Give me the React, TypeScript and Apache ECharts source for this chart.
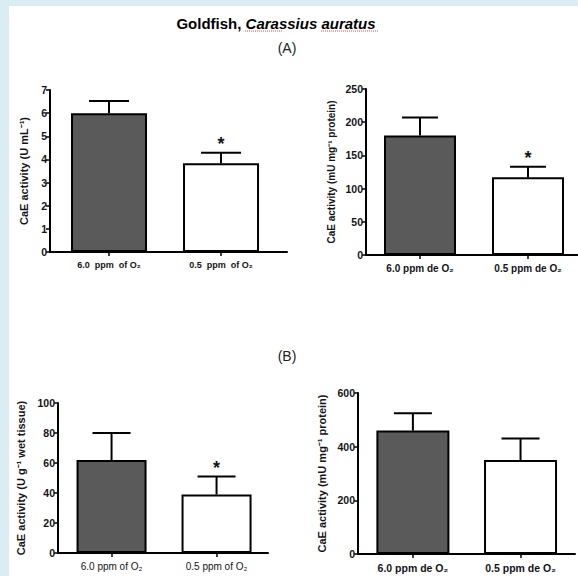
import React, { useEffect, useRef } from "react";
import * as echarts from "echarts";

// Panel A-left: U mL-1
const a1Labels = ["6.0  ppm  of O₂", "0.5  ppm  of O₂"];
const a1Means = [6.0, 3.83];
const a1Sem = [0.52, 0.46];
const a1Sig = [false, true];

// Panel A-right: mU mg-1 protein
const a2Labels = ["6.0 ppm de O₂", "0.5 ppm de O₂"];
const a2Means = [180, 117];
const a2Sem = [27, 16];
const a2Sig = [false, true];

// Panel B-left: U g-1 wet tissue
const b1Labels = ["6.0 ppm of O₂", "0.5 ppm of O₂"];
const b1Means = [62, 39];
const b1Sem = [18, 12];
const b1Sig = [false, true];

// Panel B-right: mU mg-1 protein
const b2Labels = ["6.0 ppm de O₂", "0.5 ppm de O₂"];
const b2Means = [460, 350];
const b2Sem = [65, 80];
const b2Sig = [false, false];

const positions = [1, 2];
const barColors = ["#5a5a5a", "#ffffff"];
const TXT = "#141418";
const FONT = "'Liberation Sans', Arial, sans-serif";

type Panel = {
  labels: string[];
  means: number[];
  sem: number[];
  sig: boolean[];
  yMax: number;
  yInterval: number;
  yName: string;
  grid: { left: number; top: number; width: number; height: number };
  xMin: number;
  xMax: number;
  barWidth: number;
  cap: number;
  xLabelSize: number;
  yNameSize: number;
  yNameGap: number;
  xLabelBold: boolean;
};

const panels: Panel[] = [
  {
    labels: a1Labels, means: a1Means, sem: a1Sem, sig: a1Sig,
    yMax: 7, yInterval: 1, yName: "CaE activity (U mL⁻¹)",
    grid: { left: 50, top: 90, width: 237, height: 162 },
    xMin: 0.473, xMax: 2.589, barWidth: 76, cap: 40, xLabelSize: 9,
    yNameSize: 11, yNameGap: 21, xLabelBold: true,
  },
  {
    labels: a2Labels, means: a2Means, sem: a2Sem, sig: a2Sig,
    yMax: 250, yInterval: 50, yName: "CaE activity (mU mg⁻¹ protein)",
    grid: { left: 366, top: 89, width: 212, height: 166 },
    xMin: 0.5, xMax: 2.463, barWidth: 72, cap: 36, xLabelSize: 10,
    yNameSize: 10, yNameGap: 30, xLabelBold: true,
  },
  {
    labels: b1Labels, means: b1Means, sem: b1Sem, sig: b1Sig,
    yMax: 100, yInterval: 20, yName: "CaE activity (U g⁻¹ wet tissue)",
    grid: { left: 58, top: 403, width: 210, height: 150 },
    xMin: 0.49, xMax: 2.49, barWidth: 70, cap: 38, xLabelSize: 10,
    yNameSize: 11, yNameGap: 32, xLabelBold: false,
  },
  {
    labels: b2Labels, means: b2Means, sem: b2Sem, sig: b2Sig,
    yMax: 600, yInterval: 200, yName: "CaE activity (mU mg⁻¹ protein)",
    grid: { left: 358, top: 393, width: 217, height: 161 },
    xMin: 0.49, xMax: 2.506, barWidth: 73, cap: 38, xLabelSize: 10.5,
    yNameSize: 11, yNameGap: 31, xLabelBold: true,
  },
];

export default function App() {
  const ref = useRef<HTMLDivElement>(null);
  useEffect(() => {
    if (!ref.current) return;
    const chart = echarts.init(ref.current, undefined, { renderer: "svg" });

    const grids: any[] = [];
    const xAxes: any[] = [];
    const yAxes: any[] = [];
    const series: any[] = [];

    panels.forEach((p, i) => {
      grids.push({ ...p.grid, containLabel: false });
      xAxes.push({
        type: "value",
        gridIndex: i,
        min: p.xMin,
        max: p.xMax,
        splitLine: { show: false },
        axisLine: { show: true, onZero: false, lineStyle: { color: "#000", width: 2 } },
        axisTick: { show: true, customValues: positions, length: 4, lineStyle: { color: "#000", width: 1.5 } },
        axisLabel: {
          show: true,
          customValues: positions,
          formatter: (v: number) => p.labels[Math.round(v) - 1] ?? "",
          fontSize: p.xLabelSize,
          fontWeight: p.xLabelBold ? "bold" : "normal",
          fontFamily: FONT,
          color: TXT,
          margin: 8,
        },
      });
      yAxes.push({
        type: "value",
        gridIndex: i,
        min: 0,
        max: p.yMax,
        interval: p.yInterval,
        name: p.yName,
        nameLocation: "middle",
        nameGap: p.yNameGap,
        nameTextStyle: { fontSize: p.yNameSize, fontWeight: "bold", fontFamily: FONT, color: TXT },
        splitLine: { show: false },
        axisLine: { show: true, lineStyle: { color: "#000", width: 2 } },
        axisTick: { show: true, length: 4, lineStyle: { color: "#000", width: 1.5 } },
        axisLabel: { fontSize: 10.5, fontWeight: "bold", fontFamily: FONT, color: TXT, margin: 3 },
      });
      series.push({
        type: "bar",
        xAxisIndex: i,
        yAxisIndex: i,
        barWidth: p.barWidth,
        data: positions.map((x, k) => ({
          value: [x, p.means[k]],
          itemStyle: { color: barColors[k], borderColor: "#000", borderWidth: 2 },
        })),
        z: 2,
      });
      series.push({
        type: "custom",
        xAxisIndex: i,
        yAxisIndex: i,
        clip: false,
        z: 3,
        data: positions.map((x, k) => [x, p.means[k], p.means[k] + p.sem[k], p.sig[k] ? 1 : 0]),
        renderItem: (params: any, api: any) => {
          const x = api.value(0);
          const base = api.coord([x, api.value(1)]);
          const top = api.coord([x, api.value(2)]);
          const half = p.cap / 2;
          const children: any[] = [
            { type: "line", shape: { x1: top[0], y1: base[1], x2: top[0], y2: top[1] }, style: { stroke: "#000", lineWidth: 2 } },
            { type: "line", shape: { x1: top[0] - half, y1: top[1], x2: top[0] + half, y2: top[1] }, style: { stroke: "#000", lineWidth: 2 } },
          ];
          if (api.value(3) === 1) {
            children.push({
              type: "text",
              x: top[0],
              y: top[1] - 9,
              style: { text: "*", fontSize: 18, fontWeight: "bold", fontFamily: FONT, fill: TXT, align: "center", verticalAlign: "middle" },
            });
          }
          return { type: "group", children };
        },
      });
    });

    chart.setOption({
      animation: false,
      backgroundColor: "#daedf3",
      graphic: [
        { type: "rect", shape: { x: 9, y: 6, width: 569, height: 570 }, style: { fill: "#ffffff" }, z: -10 },
        {
          type: "text",
          x: 276,
          y: 23,
          style: {
            text: "{b|Goldfish, }{i|Carassius auratus}",
            align: "center",
            verticalAlign: "middle",
            rich: {
              b: { fontSize: 15, fontWeight: "bold", fontFamily: FONT, fill: "#000" },
              i: { fontSize: 15, fontWeight: "bold", fontStyle: "italic", fontFamily: FONT, fill: "#000" },
            },
          },
        },
        { type: "line", shape: { x1: 245, y1: 31, x2: 283, y2: 31 }, style: { stroke: "#e04848", lineWidth: 1, lineDash: [1, 1] } },
        { type: "line", shape: { x1: 321, y1: 31, x2: 379, y2: 31 }, style: { stroke: "#e04848", lineWidth: 1, lineDash: [1, 1] } },
        { type: "text", x: 287, y: 48, style: { text: "(A)", fontSize: 14, fontFamily: FONT, fill: "#222", align: "center", verticalAlign: "middle" } },
        { type: "text", x: 287, y: 356, style: { text: "(B)", fontSize: 14, fontFamily: FONT, fill: "#222", align: "center", verticalAlign: "middle" } },
      ],
      grid: grids,
      xAxis: xAxes,
      yAxis: yAxes,
      series,
    });
    return () => chart.dispose();
  }, []);
  return <div ref={ref} style={{ position: "fixed", left: 0, top: 0, width: 578, height: 576 }} />;
}
